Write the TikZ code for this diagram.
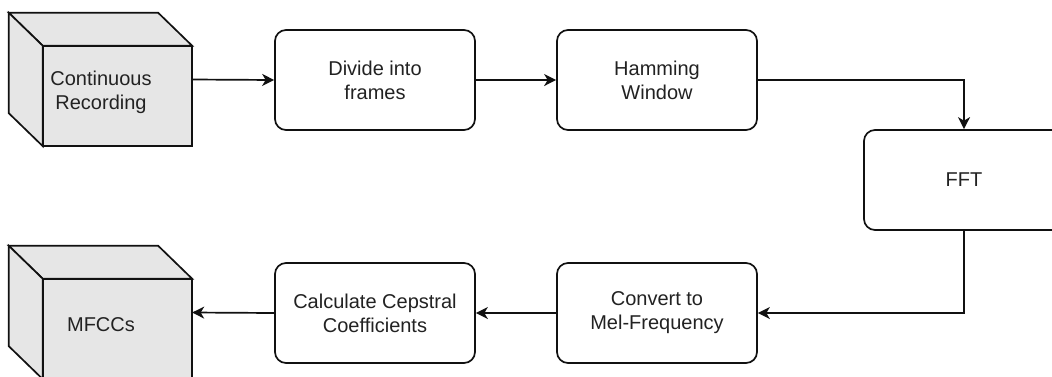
\documentclass[tikz,border=0pt]{standalone}
\usepackage{fontspec}
\setmainfont{Liberation Sans}
\usetikzlibrary{arrows.meta,calc}

\definecolor{cubefill}{HTML}{E6E6E6}
\definecolor{ink}{HTML}{111111}
\definecolor{txt}{HTML}{222222}

\tikzset{
  every node/.style={font=\fontsize{20}{24}\selectfont, text=txt},
  stepbox/.style={draw=ink, line width=1.7pt, rounded corners=11pt, fill=white,
    minimum width=200pt, minimum height=100pt, inner sep=0pt, align=center},
  cubebound/.style={minimum width=183pt, minimum height=133pt, inner sep=0pt},
  cubeline/.style={draw=ink, line width=1.7pt, fill=cubefill, line join=miter},
  cubetext/.style={align=center, inner sep=0pt},
  arr/.style={draw=ink, line width=1.7pt,
    -{Stealth[length=12pt, width=12pt, inset=3.5pt]}},
}

% draws a cube inside the bounds of node #1, depth 34 x 33
\newcommand{\drawcube}[1]{%
  \coordinate (#1-btl) at (#1.north west);
  \coordinate (#1-btr) at ($(#1.north east)+(-34,0)$);
  \coordinate (#1-bbl) at ($(#1.south west)+(0,-33)$);
  \coordinate (#1-ftl) at ($(#1.north west)+(34,33)$);
  \coordinate (#1-ftr) at ($(#1.north east)+(0,33)$);
  \coordinate (#1-fbl) at ($(#1.south west)+(34,0)$);
  \path[cubeline] (#1-ftl) rectangle (#1.south east);
  \path[cubeline] (#1-btl) -- (#1-btr) -- (#1-ftr) -- (#1-ftl) -- cycle;
  \path[cubeline] (#1-btl) -- (#1-ftl) -- (#1-fbl) -- (#1-bbl) -- cycle;
}

\begin{document}
\begin{tikzpicture}[x=1pt, y=-1pt]
  \clip (0,0) rectangle (1052,376);
  \fill[white] (0,0) rectangle (1052,376);

  % input and output cubes
  \node[cubebound] (rec) at (100.5,79.5) {};
  \drawcube{rec}
  \node[cubetext] (rectext) at ($(rec.center)+(0.5,12.5)$) {Continuous\\Recording};

  \node[cubebound] (mf) at (100.5,312.5) {};
  \drawcube{mf}
  \node[cubetext] (mftext) at ($(mf.center)+(0.5,12.5)$) {MFCCs};

  % processing steps
  \node[stepbox] (div)  at (375,80)  {Divide into\\frames};
  \node[stepbox] (ham)  at (657,80)  {Hamming\\Window};
  \node[stepbox] (fft)  at (964,180) {FFT};
  \node[stepbox] (conv) at (657,313) {Convert to\\Mel-Frequency};
  \node[stepbox] (calc) at (375,313) {Calculate Cepstral\\Coefficients};

  % connectors
  \draw[arr] (rec.east) -- (div.west);
  \draw[arr] (div.east) -- (ham.west);
  \draw[arr] (ham.east) -| (fft.north);
  \draw[arr] (fft.south) |- (conv.east);
  \draw[arr] (conv.west) -- (calc.east);
  \draw[arr] (calc.west) -- (mf.east);
\end{tikzpicture}
\end{document}
